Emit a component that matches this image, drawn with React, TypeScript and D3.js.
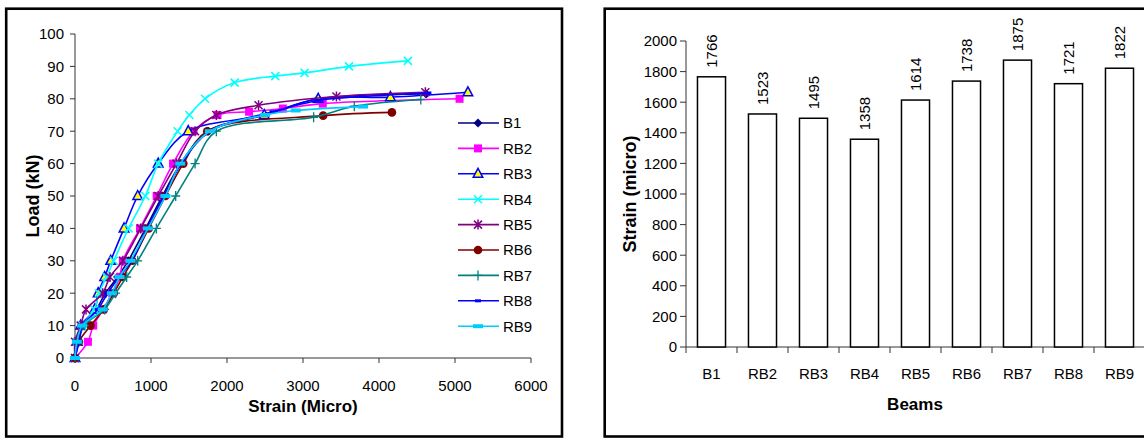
import React from "react";
import * as d3 from "d3";

// ---------- Left chart data (Load vs Strain) ----------
const seriesNames = ["B1", "RB2", "RB3", "RB4", "RB5", "RB6", "RB7", "RB8", "RB9"];
const b1Strain = [0, 40, 100, 280, 400, 560, 700, 930, 1150, 1390, 1750, 2500, 3200, 4620];
const b1Load = [0, 5, 10, 15, 20, 25, 30, 40, 50, 60, 70, 75, 80, 81.5];
const rb2Strain = [0, 170, 240, 370, 490, 590, 630, 855, 1075, 1290, 1560, 1875, 2290, 2735, 3260, 5060];
const rb2Load = [0, 5, 10, 15, 20, 25, 30, 40, 50, 60, 70, 75, 76, 77, 78.5, 80];
const rb3Strain = [0, 30, 75, 260, 305, 390, 470, 645, 825, 1095, 1490, 2490, 3200, 4150, 5170];
const rb3Load = [0, 5, 10, 15, 20, 25, 30, 40, 50, 60, 70, 75, 80, 80.5, 82];
const rb4Strain = [0, 25, 95, 255, 315, 415, 510, 705, 925, 1095, 1350, 1505, 1710, 2100, 2635, 3020, 3605, 4380];
const rb4Load = [0, 5, 10, 15, 20, 25, 30, 40, 50, 60, 70, 75, 80, 85, 87, 88, 90, 91.7];
const rb5Strain = [0, 0, 75, 145, 365, 460, 630, 865, 1095, 1335, 1580, 1860, 2415, 3440, 4610];
const rb5Load = [0, 5, 10, 15, 20, 25, 30, 40, 50, 60, 70, 75, 78, 80.7, 82];
const rb6Strain = [0, 50, 205, 380, 510, 630, 755, 970, 1190, 1425, 1740, 3265, 4170];
const rb6Load = [0, 5, 10, 15, 20, 25, 30, 40, 50, 60, 70, 74.8, 75.8];
const rb7Strain = [0, 50, 120, 390, 535, 680, 825, 1070, 1325, 1580, 1860, 3140, 3675, 4550];
const rb7Load = [0, 5, 10, 15, 20, 25, 30, 40, 50, 60, 70, 74.3, 77.7, 79.8];
const rb8Strain = [0, 55, 100, 300, 430, 580, 750, 950, 1170, 1400, 1780, 2600, 3200, 3775, 4650];
const rb8Load = [0, 5, 10, 15, 20, 25, 30, 40, 50, 60, 70, 76, 79.5, 80.7, 81.8];
const rb9Strain = [0, 25, 95, 365, 485, 585, 730, 960, 1190, 1385, 1775, 2500, 2905, 3790];
const rb9Load = [0, 5, 10, 15, 20, 25, 30, 40, 50, 60, 70, 75, 76.4, 77.6];

const loadTicks = [0, 10, 20, 30, 40, 50, 60, 70, 80, 90, 100];
const strainTicks = [0, 1000, 2000, 3000, 4000, 5000, 6000];

// ---------- Right chart data (bar) ----------
const beams = ["B1", "RB2", "RB3", "RB4", "RB5", "RB6", "RB7", "RB8", "RB9"];
const beamStrain = [1766, 1523, 1495, 1358, 1614, 1738, 1875, 1721, 1822];
const barTicks = [0, 200, 400, 600, 800, 1000, 1200, 1400, 1600, 1800, 2000];

type MarkerKind = "diamond" | "square" | "triangle" | "x" | "star" | "circle" | "plus" | "dash" | "wide";

const styles: { color: string; marker: MarkerKind }[] = [
  { color: "#000080", marker: "diamond" },
  { color: "#FF00FF", marker: "square" },
  { color: "#0000FF", marker: "triangle" },
  { color: "#00FFFF", marker: "x" },
  { color: "#800080", marker: "star" },
  { color: "#800000", marker: "circle" },
  { color: "#008080", marker: "plus" },
  { color: "#0000FF", marker: "dash" },
  { color: "#00CCFF", marker: "wide" },
];

const seriesData = [
  [b1Strain, b1Load],
  [rb2Strain, rb2Load],
  [rb3Strain, rb3Load],
  [rb4Strain, rb4Load],
  [rb5Strain, rb5Load],
  [rb6Strain, rb6Load],
  [rb7Strain, rb7Load],
  [rb8Strain, rb8Load],
  [rb9Strain, rb9Load],
];

const FONT = "'Liberation Sans', Arial, sans-serif";

function Marker({ kind, color, x, y }: { kind: MarkerKind; color: string; x: number; y: number }) {
  const s = 4;
  switch (kind) {
    case "diamond":
      return <path d={`M${x},${y - 4.5}L${x + 4.5},${y}L${x},${y + 4.5}L${x - 4.5},${y}Z`} fill={color} />;
    case "square":
      return <rect x={x - s} y={y - s} width={2 * s} height={2 * s} fill={color} />;
    case "triangle":
      return (
        <path
          d={`M${x},${y - 5.5}L${x + 4.8},${y + 3.5}L${x - 4.8},${y + 3.5}Z`}
          fill="#FFFF00"
          stroke={color}
          strokeWidth={1.5}
        />
      );
    case "x":
      return (
        <path d={`M${x - s},${y - s}L${x + s},${y + s}M${x - s},${y + s}L${x + s},${y - s}`} stroke={color} strokeWidth={1.5} />
      );
    case "star":
      return (
        <path
          d={`M${x - s},${y - s}L${x + s},${y + s}M${x - s},${y + s}L${x + s},${y - s}M${x},${y - 5}L${x},${y + 5}`}
          stroke={color}
          strokeWidth={1.5}
        />
      );
    case "circle":
      return <circle cx={x} cy={y} r={4.3} fill={color} />;
    case "plus":
      return <path d={`M${x - 4.5},${y}L${x + 4.5},${y}M${x},${y - 5}L${x},${y + 5}`} stroke={color} strokeWidth={1.3} />;
    case "dash":
      return <rect x={x - 3} y={y - 1.5} width={6} height={3} fill={color} />;
    case "wide":
      return <rect x={x - 5} y={y - 2} width={10} height={4} fill={color} />;
  }
}

function LeftChart() {
  const x = d3.scaleLinear().domain([0, 6000]).range([75, 531]);
  const y = d3.scaleLinear().domain([0, 100]).range([358, 34]);
  const line = d3
    .line<[number, number]>()
    .x((d) => x(d[0]))
    .y((d) => y(d[1]))
    .curve(d3.curveCatmullRom.alpha(0.5));
  const axisColor = "#333";
  return (
    <g fontFamily={FONT}>
      <rect x={6.2} y={8.7} width={555.8} height={427.8} fill="none" stroke="#000" strokeWidth={2.6} />
      {/* y axis */}
      <line x1={x(0)} x2={x(0)} y1={y(0)} y2={y(100)} stroke={axisColor} strokeWidth={1} />
      {loadTicks.map((t) => (
        <g key={t}>
          <line x1={x(0) - 5} x2={x(0)} y1={y(t)} y2={y(t)} stroke={axisColor} />
          <text x={64} y={y(t)} dy="0.36em" textAnchor="end" fontSize={15} fill="#000">
            {t}
          </text>
        </g>
      ))}
      {/* x axis */}
      <line x1={x(0)} x2={x(6000)} y1={y(0)} y2={y(0)} stroke={axisColor} strokeWidth={1} />
      {strainTicks.map((t) => (
        <g key={t}>
          <line x1={x(t)} x2={x(t)} y1={y(0)} y2={y(0) + 5} stroke={axisColor} />
          <text x={x(t)} y={391} textAnchor="middle" fontSize={15} fill="#000">
            {t}
          </text>
        </g>
      ))}
      <text x={303} y={412} textAnchor="middle" fontSize={17} fontWeight="bold">
        Strain (Micro)
      </text>
      <text transform={`translate(39,196) rotate(-90)`} textAnchor="middle" fontSize={18} fontWeight="bold">
        Load (kN)
      </text>
      {/* series */}
      {seriesData.map((sd, i) => {
        const pts: [number, number][] = sd[0].map((v, j) => [v, sd[1][j]]);
        const st = styles[i];
        return (
          <g key={i}>
            <path d={line(pts) || ""} fill="none" stroke={st.color} strokeWidth={1.6} />
            {pts.map((p, j) => (
              <Marker key={j} kind={st.marker} color={st.color} x={x(p[0])} y={y(p[1])} />
            ))}
          </g>
        );
      })}
      {/* legend */}
      {seriesNames.map((n, i) => {
        const ly = 123 + i * 25.4;
        const st = styles[i];
        return (
          <g key={n}>
            <line x1={458} x2={499} y1={ly} y2={ly} stroke={st.color} strokeWidth={1.6} />
            <Marker kind={st.marker} color={st.color} x={478} y={ly} />
            <text x={503} y={ly} dy="0.36em" fontSize={15}>
              {n}
            </text>
          </g>
        );
      })}
    </g>
  );
}

function RightChart() {
  const x = d3.scaleBand<string>().domain(beams).range([686, 1145]).paddingInner(0.45).paddingOuter(0.225);
  const y = d3.scaleLinear().domain([0, 2000]).range([347, 41]);
  const step = x.step();
  const axisColor = "#333";
  return (
    <g fontFamily={FONT}>
      <rect x={604.7} y={8.7} width={600} height={427.8} fill="none" stroke="#000" strokeWidth={2.6} />
      <line x1={686} x2={686} y1={y(0)} y2={y(2000)} stroke={axisColor} />
      {barTicks.map((t) => (
        <g key={t}>
          <line x1={680} x2={686} y1={y(t)} y2={y(t)} stroke={axisColor} />
          <text x={677} y={y(t)} dy="0.36em" textAnchor="end" fontSize={15}>
            {t}
          </text>
        </g>
      ))}
      <line x1={686} x2={1145} y1={y(0)} y2={y(0)} stroke={axisColor} />
      {beams.map((b, i) => {
        const x0 = (x(b) as number) - step * 0.225;
        return <line key={"t" + b} x1={x0} x2={x0} y1={y(0)} y2={y(0) + 6} stroke={axisColor} />;
      })}
      {beams.map((b, i) => {
        const bx = x(b) as number;
        const bw = x.bandwidth();
        const v = beamStrain[i];
        const cx = bx + bw / 2;
        return (
          <g key={b}>
            <rect x={bx} y={y(v)} width={bw} height={y(0) - y(v)} fill="#fff" stroke="#000" strokeWidth={1.5} />
            <text transform={`translate(${cx},${y(v) - 9}) rotate(-90)`} dy="0.36em" fontSize={15}>
              {v}
            </text>
            <text x={cx} y={379} textAnchor="middle" fontSize={15}>
              {b}
            </text>
          </g>
        );
      })}
      <text x={915} y={410} textAnchor="middle" fontSize={17} fontWeight="bold">
        Beams
      </text>
      <text transform={`translate(636,194) rotate(-90)`} textAnchor="middle" fontSize={18} fontWeight="bold">
        Strain (micro)
      </text>
    </g>
  );
}

export default function App() {
  return (
    <svg
      width={1144}
      height={438}
      style={{ position: "absolute", left: 0, top: 0, background: "#fff" }}
      xmlns="http://www.w3.org/2000/svg"
    >
      <rect width={1144} height={438} fill="#fff" />
      <LeftChart />
      <RightChart />
    </svg>
  );
}
